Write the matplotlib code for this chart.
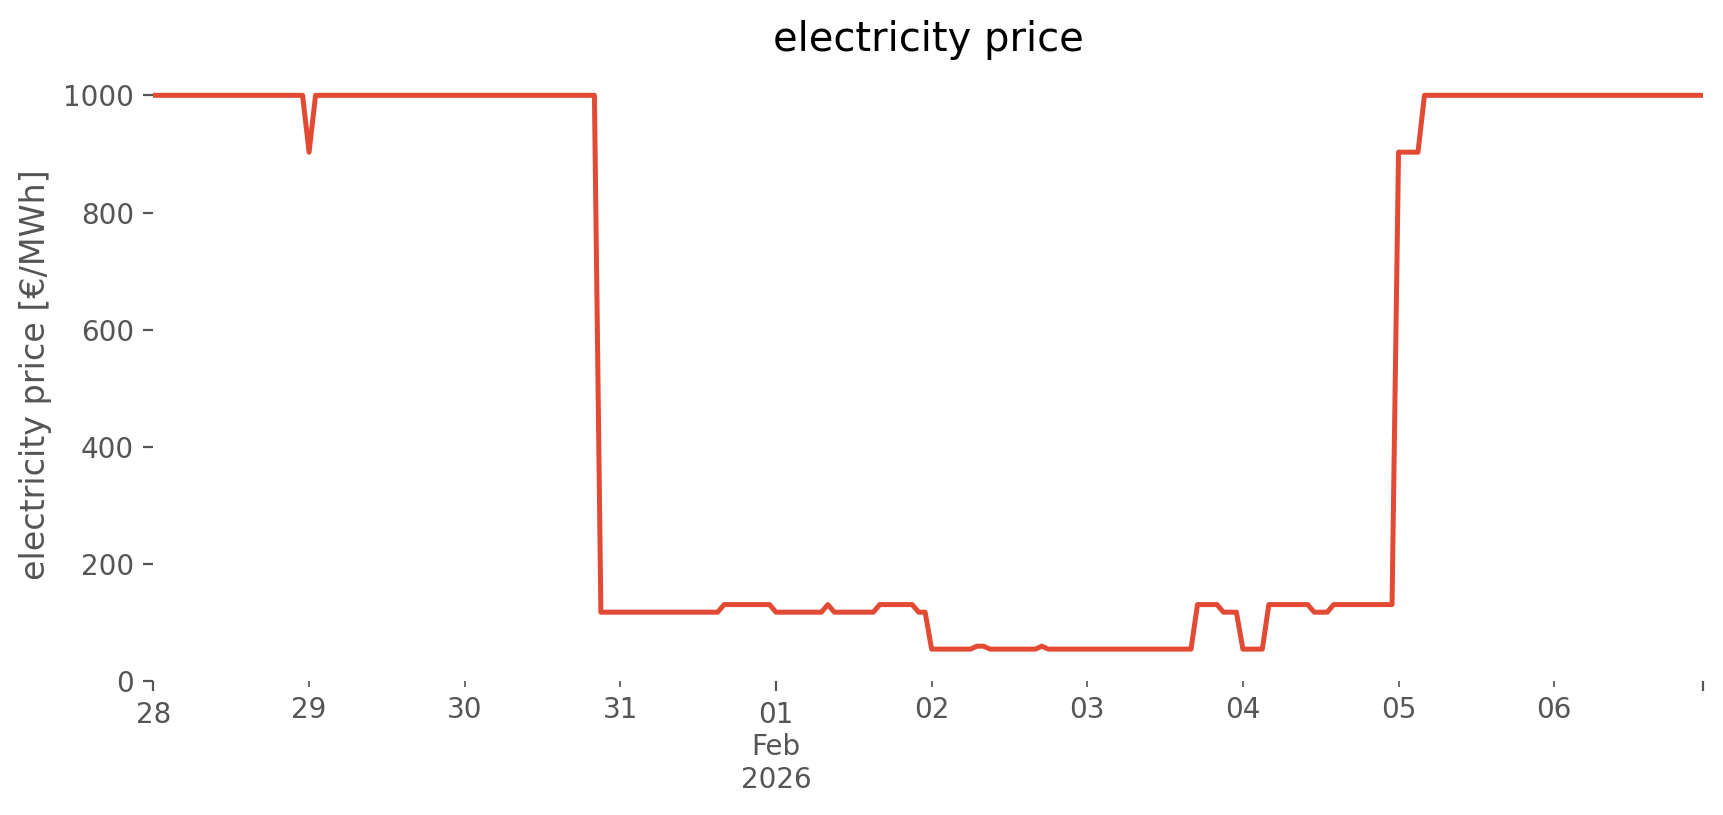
import matplotlib
matplotlib.use("Agg")
import matplotlib.pyplot as plt
import numpy as np
import pandas as pd

plt.style.use("ggplot")

price_levels = [1000, 903, 1000, 118, 131, 118, 131, 118, 131, 118,
                55, 60, 55, 60, 55, 131, 118, 55, 131, 118, 131, 903, 1000]
run_hours = [24, 1, 44, 19, 8, 8, 1, 7, 6, 2,
             7, 2, 8, 1, 23, 4, 3, 4, 7, 3, 10, 4, 44]
start = "2026-01-28 00:00"

prices = np.repeat(price_levels, run_hours)
index = pd.date_range(start, periods=len(prices), freq="h")
price = pd.Series(prices, index=index)

fig, ax = plt.subplots(figsize=(8.62, 4.075), dpi=200)
ax.set_facecolor("white")
ax.grid(False)

price.plot(ax=ax, color="#E24A33", linewidth=1.8)
ax.set_ylim(bottom=0)

ax.set_title("electricity price")
ax.set_ylabel("electricity price [€/MWh]")
ax.set_xlabel("")
for s in ax.spines.values():
    s.set_visible(False)

fig.subplots_adjust(left=0.089, right=0.988, bottom=0.164, top=0.917)
fig.savefig("out.png", dpi=200)
